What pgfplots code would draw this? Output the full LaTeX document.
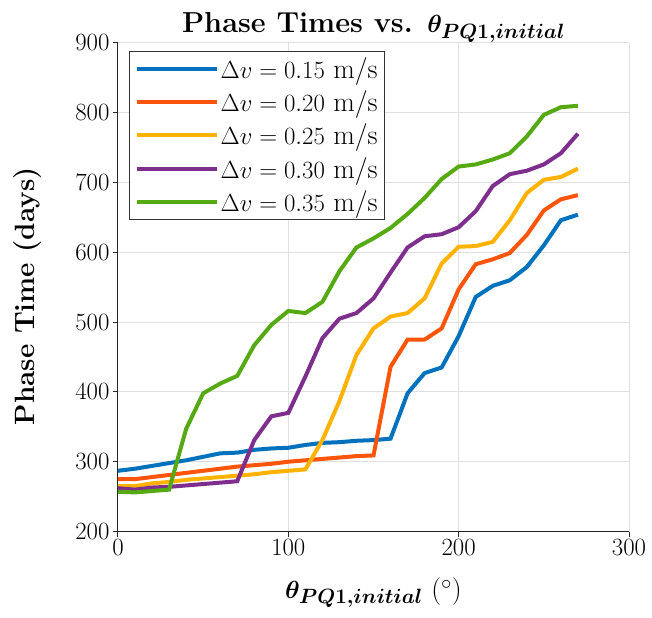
\documentclass[border=0pt]{standalone}
\usepackage{pgfplots}
\pgfplotsset{compat=1.18}
\definecolor{cA}{RGB}{0,114,189}
\definecolor{cB}{RGB}{250,85,10}
\definecolor{cC}{RGB}{255,178,0}
\definecolor{cD}{RGB}{126,47,142}
\definecolor{cE}{RGB}{85,170,20}
\begin{document}
\begin{tikzpicture}
\begin{axis}[
  name=ax,
  width=511bp, height=488.5bp, scale only axis,
  xmin=0, xmax=300, ymin=200, ymax=900,
  xtick={0,100,200,300}, ytick={200,300,400,500,600,700,800,900},
  axis x line*=bottom, axis y line*=left,
  tick align=outside, major tick length=5bp,
  grid=major, grid style={color=black!12, line width=1bp},
  axis line style={color=black!85, line width=1bp},
  tick style={color=black!85, line width=1bp},
  tick label style={font=\fontsize{28}{34}\selectfont},
  legend style={at={(0.022,0.984)}, anchor=north west, draw=black!80, line width=1bp, fill=white,
    font=\fontsize{28}{34}\selectfont, row sep=7bp, inner xsep=5bp, inner ysep=4bp},
  legend image post style={xscale=4.7},
  legend cell align=left,
]
\addplot[color=cA, line width=4bp] coordinates {(0,287)(10,290)(20,294)(30,298)(40,302)(50,307)(60,312)(70,313)(80,317)(90,319)(100,320)(110,324)(120,327)(130,328)(140,330)(150,331)(160,333)(170,398)(180,427)(190,435)(200,480)(210,536)(220,552)(230,560)(240,579)(250,610)(260,646)(270,654)};
\addlegendentry{$\Delta v = 0.15$ m/s}
\addplot[color=cB, line width=4bp] coordinates {(0,275)(10,275)(20,278)(30,281)(40,284)(50,287)(60,290)(70,293)(80,295)(90,297)(100,300)(110,302)(120,304)(130,306)(140,308)(150,309)(160,436)(170,475)(180,475)(190,491)(200,547)(210,583)(220,590)(230,599)(240,625)(250,660)(260,676)(270,682)};
\addlegendentry{$\Delta v = 0.20$ m/s}
\addplot[color=cC, line width=4bp] coordinates {(0,265)(10,265)(20,269)(30,271)(40,274)(50,276)(60,278)(70,280)(80,282)(90,285)(100,287)(110,289)(120,331)(130,387)(140,453)(150,491)(160,508)(170,513)(180,534)(190,584)(200,608)(210,609)(220,615)(230,646)(240,685)(250,704)(260,708)(270,720)};
\addlegendentry{$\Delta v = 0.25$ m/s}
\addplot[color=cD, line width=4bp] coordinates {(0,262)(10,260)(20,263)(30,264)(40,266)(50,268)(60,270)(70,272)(80,331)(90,365)(100,370)(110,422)(120,477)(130,505)(140,513)(150,534)(160,571)(170,607)(180,623)(190,626)(200,636)(210,659)(220,695)(230,712)(240,717)(250,726)(260,742)(270,770)};
\addlegendentry{$\Delta v = 0.30$ m/s}
\addplot[color=cE, line width=4bp] coordinates {(0,257)(10,256)(20,258)(30,260)(40,347)(50,398)(60,412)(70,423)(80,467)(90,496)(100,516)(110,513)(120,529)(130,573)(140,607)(150,620)(160,635)(170,655)(180,678)(190,705)(200,723)(210,726)(220,733)(230,742)(240,766)(250,797)(260,808)(270,810)};
\addlegendentry{$\Delta v = 0.35$ m/s}
\end{axis}
\path ([xshift=-118bp,yshift=43bp]ax.north west) rectangle ([xshift=23bp,yshift=-86.5bp]ax.south east);
\node[anchor=base, font=\fontsize{29}{35}\selectfont\bfseries] at ([yshift=10bp]ax.north) {{\boldmath Phase Times vs. $\theta_{PQ1,initial}$}};
\node[anchor=base, font=\fontsize{28}{34}\selectfont] at ([yshift=-66.5bp]ax.south) {{\boldmath$\theta_{PQ1,initial}$} ($^\circ$)};
\node[anchor=base, rotate=90, font=\fontsize{28}{34}\selectfont\bfseries] at ([xshift=-83bp,yshift=-9bp]ax.west) {Phase Time (days)};
\end{tikzpicture}
\end{document}
